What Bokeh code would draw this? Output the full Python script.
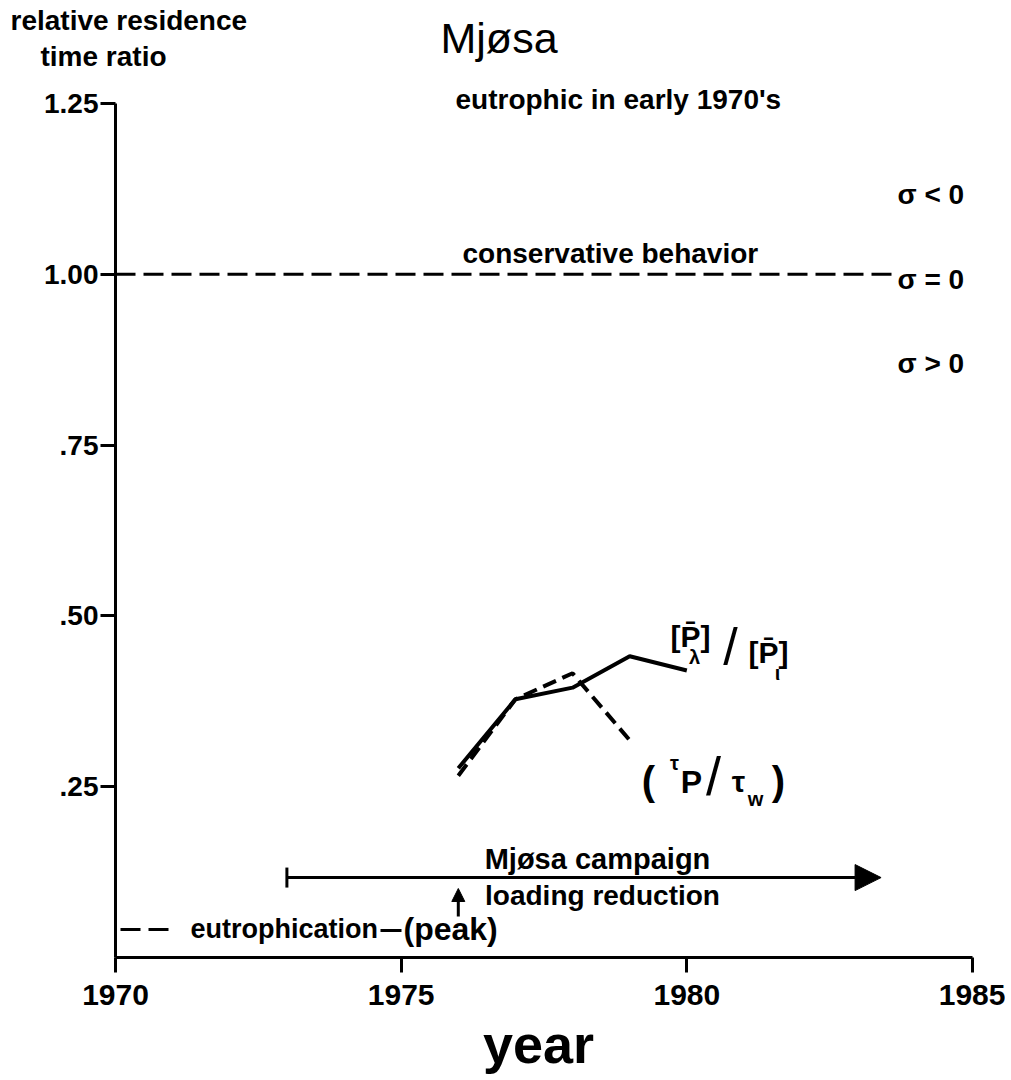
from bokeh.plotting import figure
from bokeh.models import (Range1d, Label, Arrow, NormalHead, TeeHead, FixedTicker,
                          LinearAxis)
from bokeh.embed import file_html
from bokeh.resources import INLINE

# ---------------- data ----------------
years_ratio = [1976, 1977, 1978, 1979, 1980]          # [P]_lambda / [P]_i  (solid)
p_ratio = [0.277, 0.378, 0.395, 0.441, 0.420]
years_tau = [1976, 1977, 1978, 1979]                  # tau_P / tau_W  (dashed)
tau_ratio = [0.266, 0.378, 0.416, 0.318]

x_ticks = [1970, 1975, 1980, 1985]
y_ticks = [0.25, 0.50, 0.75, 1.00, 1.25]
y_tick_labels = [".25", ".50", ".75", "1.00", "1.25"]

conservative_value = 1.0
conservative_end = 1983.65
campaign_start = 1973
campaign_end = 1983.4
campaign_level = 0.117
peak_year = 1976

# ---------------- layout helpers (picture px -> data) ----------------
FX0, FX1 = 115.0, 972.0   # picture x of 1970 / 1985
FY0, FY1 = 957.0, 103.0   # picture y of 0 / 1.25


def X(px):
    return 1970 + (px - FX0) * 15.0 / (FX1 - FX0)


def Y(py):
    return (FY0 - py) * 1.25 / (FY0 - FY1)


W, H = 1005, 1078
p = figure(width=W, height=H, title=None,
           x_range=Range1d(X(0), X(W)), y_range=Range1d(Y(H), Y(0)),
           x_axis_location=None, y_axis_location=None,
           output_backend="svg", toolbar_location=None,
           min_border_left=0, min_border_right=0,
           min_border_top=0, min_border_bottom=0)
p.outline_line_color = None
p.xgrid.grid_line_color = None
p.ygrid.grid_line_color = None
p.background_fill_color = "white"
p.border_fill_color = "white"

xaxis = LinearAxis(fixed_location=0, bounds=(1970, 1985),
                   ticker=FixedTicker(ticks=x_ticks))
yaxis = LinearAxis(fixed_location=1970, bounds=(0, 1.25),
                   ticker=FixedTicker(ticks=y_ticks))
yaxis.major_label_overrides = {t: s for t, s in zip(y_ticks, y_tick_labels)}

for ax in (xaxis, yaxis):
    ax.axis_line_width = 3
    ax.axis_line_color = "black"
    ax.major_tick_line_width = 3
    ax.major_tick_line_color = "black"
    ax.major_tick_in = 0
    ax.major_tick_out = 15
    ax.minor_tick_line_color = None
    ax.major_label_text_font = "Liberation Sans"
    ax.major_label_text_font_style = "bold"
    ax.major_label_text_color = "black"

xaxis.major_label_text_font_size = "30px"
xaxis.major_label_standoff = 12
yaxis.major_label_text_font_size = "28px"
yaxis.major_label_standoff = 2
p.add_layout(xaxis, "below")
p.add_layout(yaxis, "left")

# ---------------- data lines ----------------
p.line(years_ratio, p_ratio, line_width=4, line_color="black")
p.line(years_tau, tau_ratio, line_width=4, line_color="black", line_dash="14 7")

# conservative behaviour reference line
p.line([1970, conservative_end], [conservative_value, conservative_value],
       line_width=3, line_color="black", line_dash="20 8")

# campaign arrow
p.add_layout(Arrow(x_start=campaign_start, y_start=campaign_level,
                   x_end=campaign_end, y_end=campaign_level,
                   line_width=3, line_color="black",
                   start=TeeHead(size=20, line_width=3, line_color="black"),
                   end=NormalHead(size=26, fill_color="black", line_color="black")))

# peak arrow
p.add_layout(Arrow(x_start=peak_year, y_start=Y(916), x_end=peak_year, y_end=Y(888),
                   line_width=3, line_color="black",
                   end=NormalHead(size=13, fill_color="black", line_color="black")))

# eutrophication dashes
p.line([X(120), X(168)], [Y(929), Y(929)], line_width=3, line_color="black", line_dash="20 8")
p.line([X(380), X(401)], [Y(930), Y(930)], line_width=3, line_color="black")


def lab(text, px, py, size, align="left", baseline="middle",
        font="Liberation Sans", style="bold"):
    p.add_layout(Label(x=X(px), y=Y(py), text=text, text_font_size=f"{size}px",
                       text_align=align, text_baseline=baseline,
                       text_font=font, text_font_style=style, text_color="black"))


lab("relative residence", 10, 20, 28)
lab("time ratio", 40, 56, 28)
lab("Mjøsa", 440, 37, 43, style="normal")
lab("eutrophic in early 1970's", 455, 99, 28)
lab("conservative behavior", 462, 253, 28)
lab("σ < 0", 897, 194, 28)
lab("σ = 0", 897, 279, 28)
lab("σ > 0", 897, 363, 28)
lab("Mjøsa campaign", 597, 858, 29, align="center")
lab("loading reduction", 602, 895, 28, align="center")
lab("eutrophication", 190, 928, 27)
lab("(peak)", 403, 928, 32)
lab("year", 538, 1043, 54, align="center")

# [P̄λ]/[P̄ι]
lab("[P\u0304]", 670, 636, 30)
lab("λ", 694, 656, 20, align="center")
lab("/", 730, 646, 52, align="center", style="normal")
lab("[P\u0304]", 748, 652, 30)
lab("ι", 777, 672, 20, align="center")

# (τP/τw)
lab("(", 648, 780, 40, align="center")
lab("τ", 674, 762, 20, align="center")
lab("P", 691, 781, 32, align="center")
lab("/", 713, 775, 54, align="center", style="normal")
lab("τ", 738, 781, 30, align="center")
lab("w", 755, 798, 20, align="center")
lab(")", 778, 780, 40, align="center")

open("out.html", "w").write(file_html(p, INLINE))
